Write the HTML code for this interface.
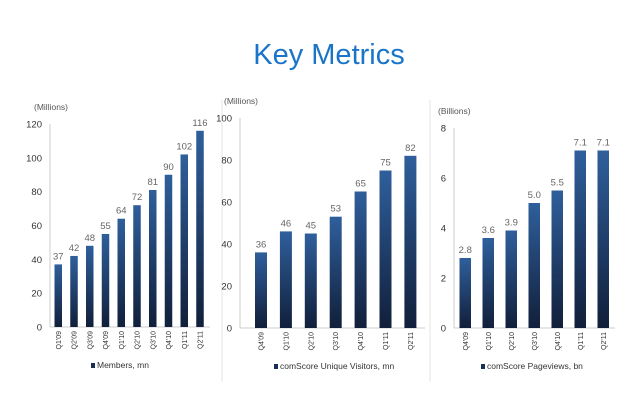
<!DOCTYPE html>
<html><head><meta charset="utf-8"><style>
html,body{margin:0;padding:0;background:#fff;}
svg{display:block;font-family:"Liberation Sans",Arial,sans-serif;}
</style></head><body>
<svg id="s" width="643" height="408" viewBox="0 0 643 408" xmlns="http://www.w3.org/2000/svg">
<defs><linearGradient id="g" x1="0" y1="0" x2="0" y2="1"><stop offset="0" stop-color="#2f5f9c"/><stop offset="1" stop-color="#111f3a"/></linearGradient></defs>
<text x="329" y="64" font-size="29" fill="#1a75c9" text-anchor="middle">Key Metrics</text>
<line x1="222" y1="100" x2="222" y2="382" stroke="#e6e6e6"/>
<line x1="430" y1="100" x2="430" y2="382" stroke="#e6e6e6"/>
</svg>
<script>
const s=document.getElementById('s');const NS='http://www.w3.org/2000/svg';
function el(t,a,txt){const e=document.createElementNS(NS,t);for(const k in a)e.setAttribute(k,a[k]);if(txt!=null)e.textContent=txt;s.appendChild(e);return e;}
function chart(o){
 const {ax,y0,ytop,max,step,ticks,unit,cats,vals,labs,b0,bs,bw,axEnd,leg,legx,dec}=o;
 const sc=(y0-ytop)/max;
 el('text',{x:ax-16,y:ytop-14,'font-size':8.5,fill:'#555'},unit);
 el('line',{x1:ax,y1:ytop,x2:ax,y2:y0,stroke:'#ccc'});
 el('line',{x1:ax,y1:y0,x2:axEnd,y2:y0,stroke:'#ccc'});
 for(let v=0;v<=max+1e-9;v+=step){el('text',{x:ax-8,y:y0-v*sc+3.5,'font-size':9.5,fill:'#333','text-anchor':'end'},String(v));}
 vals.forEach((v,i)=>{const x=b0+i*bs;const h=v*sc;
  el('rect',{x:x,y:y0-h,width:bw,height:h,fill:'url(#g)'});
  el('text',{x:x+bw/2,y:y0-h-5,'font-size':9.5,fill:'#666','text-anchor':'middle'},labs[i]);
  el('text',{x:0,y:0,'font-size':7,fill:'#333','text-anchor':'end',transform:`translate(${x+bw/2+2.5},${y0+4}) rotate(-90)`},cats[i]);
 });
 el('rect',{x:legx,y:leg-5,width:4,height:5,fill:'#1a2f55'});
 el('text',{x:legx+6,y:leg,'font-size':8.5,fill:'#333'},o.legt);
}
chart({ax:50,y0:327,ytop:124,max:120,step:20,unit:'(Millions)',cats:["Q1'09","Q2'09","Q3'09","Q4'09","Q1'10","Q2'10","Q3'10","Q4'10","Q1'11","Q2'11"],
 vals:[37,42,48,55,64,72,81,90,102,116],labs:['37','42','48','55','64','72','81','90','102','116'],b0:54.5,bs:15.75,bw:7.5,axEnd:210,leg:368,legx:91,legt:'Members, mn'});
chart({ax:240,y0:328,ytop:118,max:100,step:20,unit:'(Millions)',cats:["Q4'09","Q1'10","Q2'10","Q3'10","Q4'10","Q1'11","Q2'11"],
 vals:[36,46,45,53,65,75,82],labs:['36','46','45','53','65','75','82'],b0:255,bs:24.9,bw:12,axEnd:425,leg:369,legx:274,legt:'comScore Unique Visitors, mn'});
chart({ax:454,y0:328,ytop:128,max:8,step:2,unit:'(Billions)',cats:["Q4'09","Q1'10","Q2'10","Q3'10","Q4'10","Q1'11","Q2'11"],
 vals:[2.8,3.6,3.9,5.0,5.5,7.1,7.1],labs:['2.8','3.6','3.9','5.0','5.5','7.1','7.1'],b0:459.5,bs:23,bw:11.5,axEnd:615,leg:369,legx:481,legt:'comScore Pageviews, bn'});
</script>
</body></html>
